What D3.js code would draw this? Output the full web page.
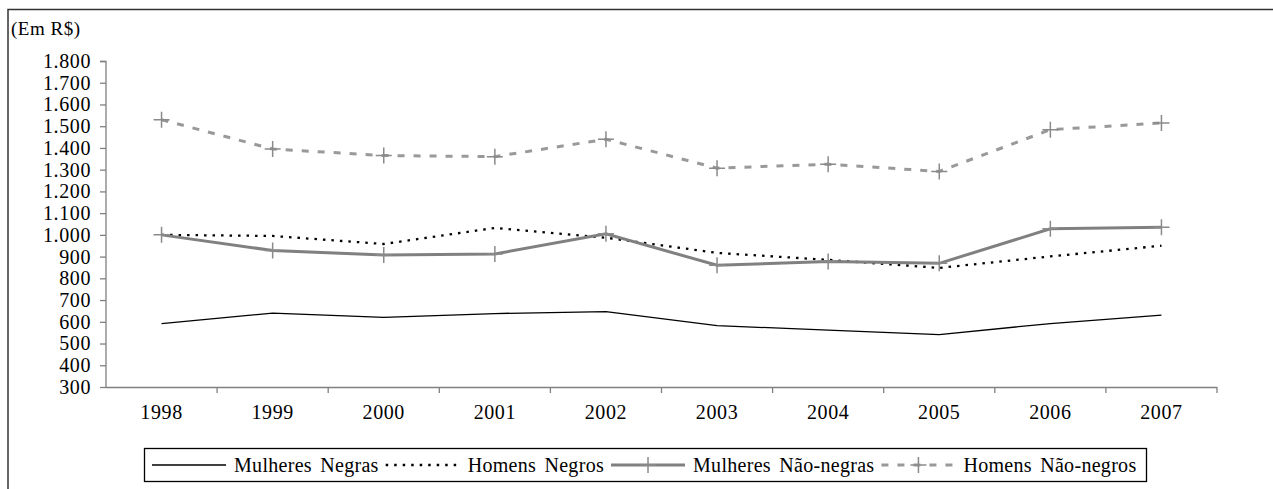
<!DOCTYPE html>
<html>
<head>
<meta charset="utf-8">
<script src="https://cdn.jsdelivr.net/npm/d3@7"></script>
<style>
  body { margin: 0; background: #fff; }
</style>
</head>
<body>
<div id="chart"></div>
<script>
var width = 1273;
var height = 489;
var FONT = "'Liberation Serif'";

var years = ["1998", "1999", "2000", "2001", "2002", "2003", "2004", "2005", "2006", "2007"];
var yTicks = [300, 400, 500, 600, 700, 800, 900, 1000, 1100, 1200, 1300, 1400, 1500, 1600, 1700, 1800];

// valores em R$
var mulheresNegras = [592, 640, 620, 638, 647, 582, 562, 541, 592, 631];
var homensNegros = [1000, 995, 958, 1032, 987, 917, 885, 848, 901, 950];
var mulheresNaoNegras = [1000, 928, 907, 912, 1005, 860, 878, 869, 1028, 1035];
var homensNaoNegros = [1530, 1395, 1365, 1360, 1440, 1307, 1325, 1292, 1484, 1515];

var seriesNames = ["Mulheres Negras", "Homens Negros", "Mulheres Não-negras", "Homens Não-negros"];

var series = [
  {name: seriesNames[0], values: mulheresNegras, color: "#000", width: 1.3, dash: null, marker: false},
  {name: seriesNames[1], values: homensNegros, color: "#000", width: 2.3, dash: "2.5,6", marker: false},
  {name: seriesNames[2], values: mulheresNaoNegras, color: "#808080", width: 3, dash: null, marker: true},
  {name: seriesNames[3], values: homensNaoNegros, color: "#999", width: 3, dash: "7,9", marker: true}
];

var svg = d3.select("#chart").append("svg")
  .attr("width", width)
  .attr("height", height);

// moldura
svg.append("path")
  .attr("d", "M8,489V9.5H1273")
  .attr("fill", "none")
  .attr("stroke", "#333")
  .attr("stroke-width", 1.5);

svg.append("text")
  .attr("x", 11)
  .attr("y", 35)
  .style("font-family", FONT)
  .style("font-size", "19px")
  .style("letter-spacing", "0.5px")
  .text("(Em R$)");

var x = d3.scaleBand()
  .domain(years)
  .range([106, 1217]);

var y = d3.scaleLinear()
  .domain([300, 1800])
  .range([387, 61]);

// eixo y
var yAxis = svg.append("g")
  .attr("transform", "translate(106,0)")
  .call(d3.axisLeft(y)
    .tickValues(yTicks)
    .tickSize(6)
    .tickPadding(9)
    .tickFormat(function(d) { return d3.format(",")(d).replace(",", "."); }));

// eixo x
var xAxis = svg.append("g")
  .attr("transform", "translate(0,387)")
  .call(d3.axisBottom(x).tickSize(0).tickPadding(18));

// ticks do eixo x nas divisas das categorias
xAxis.selectAll(".sep")
  .data(years)
  .enter().append("line")
    .attr("class", "sep")
    .attr("x1", function(d) { return x(d) + x.bandwidth(); })
    .attr("x2", function(d) { return x(d) + x.bandwidth(); })
    .attr("y1", 0)
    .attr("y2", 6);

svg.selectAll(".domain, .tick line, .sep")
  .attr("stroke", "#808080")
  .attr("stroke-width", 1.3);
xAxis.select(".domain").attr("d", "M106,0.5H1217");
yAxis.select(".domain").attr("d", "M-6,61.5H0V387");

svg.selectAll(".tick text")
  .style("font-family", FONT)
  .style("font-size", "20px")
  .style("letter-spacing", "0.6px")
  .attr("fill", "#000");

var line = d3.line()
  .x(function(d, i) { return x(years[i]) + x.bandwidth() / 2; })
  .y(function(d) { return y(d); });

var plus = "M-8,0H8M0,-8V8";

series.forEach(function(s) {
  svg.append("path")
    .datum(s.values)
    .attr("fill", "none")
    .attr("stroke", s.color)
    .attr("stroke-width", s.width)
    .attr("stroke-dasharray", s.dash)
    .attr("d", line);

  if (s.marker) {
    svg.selectAll(null)
      .data(s.values)
      .enter().append("path")
        .attr("d", plus)
        .attr("transform", function(d, i) {
          return "translate(" + (x(years[i]) + x.bandwidth() / 2) + "," + y(d) + ")";
        })
        .attr("stroke", "#8a8a8a")
        .attr("stroke-width", 1.5);
  }
});

// legenda
var legend = svg.append("g");
var box = legend.append("rect")
  .attr("x", 144.5)
  .attr("y", 448.5)
  .attr("height", 33)
  .attr("fill", "#fff")
  .attr("stroke", "#000")
  .attr("stroke-width", 1.3);

var lx = 152;
var ly = 465;
series.forEach(function(s) {
  legend.append("line")
    .attr("x1", lx).attr("x2", lx + 74)
    .attr("y1", ly).attr("y2", ly)
    .attr("stroke", s.color)
    .attr("stroke-width", s.width)
    .attr("stroke-dasharray", s.dash);
  if (s.marker) {
    legend.append("path")
      .attr("d", plus)
      .attr("transform", "translate(" + (lx + 37) + "," + ly + ")")
      .attr("stroke", "#8a8a8a")
      .attr("stroke-width", 1.5);
  }
  var t = legend.append("text")
    .attr("x", lx + 82)
    .attr("y", ly)
    .attr("dy", "0.34em")
    .style("font-family", FONT)
    .style("font-size", "20px")
    .style("letter-spacing", "0.3px")
    .style("word-spacing", "3px")
    .text(s.name);
  lx = lx + 82 + t.node().getComputedTextLength() + 7;
});
box.attr("width", lx + 3 - 144.5);
</script>
</body>
</html>
